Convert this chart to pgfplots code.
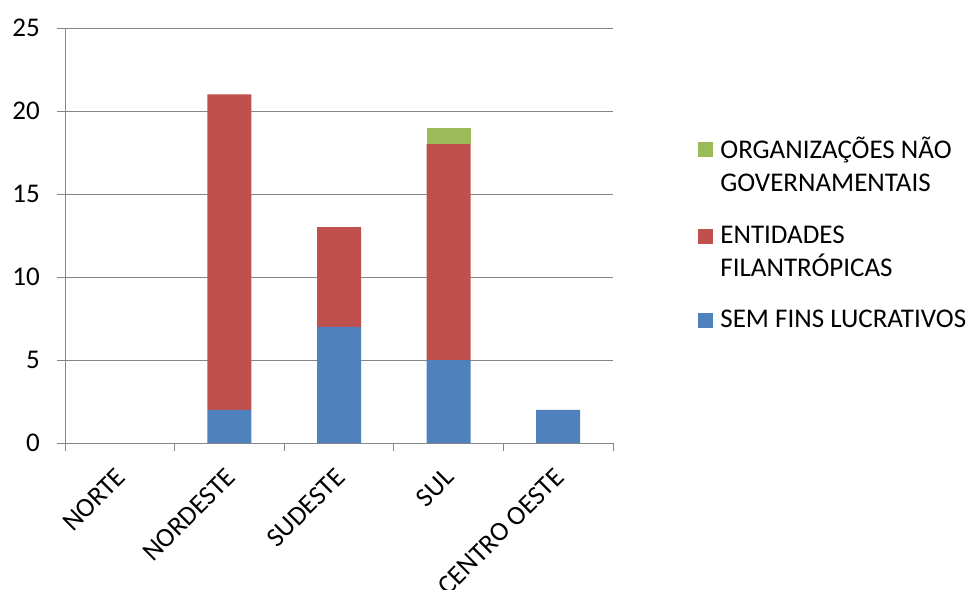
\documentclass[border=0pt]{standalone}
\usepackage{pgfplots}
\pgfplotsset{compat=1.18}
\usepackage{fontspec}
\setmainfont{Carlito}
\definecolor{cblue}{RGB}{79,129,189}
\definecolor{cred}{RGB}{192,80,77}
\definecolor{cgreen}{RGB}{155,187,89}
\definecolor{gridgray}{RGB}{134,134,134}
\begin{document}
\fontsize{27}{33}\selectfont
\begin{tikzpicture}
\useasboundingbox (0pt,0pt) rectangle (968pt,589pt);
\begin{axis}[
  at={(65pt,146pt)}, anchor=south west,
  scale only axis, width=548pt, height=415pt,
  ybar stacked, bar width=44pt,
  xmin=-0.5, xmax=4.5, ymin=0, ymax=25,
  xtick={-0.5,0.5,1.5,2.5,3.5,4.5}, xticklabels={},
  extra x ticks={0,1,2,3,4},
  extra x tick labels={NORTE,NORDESTE,SUDESTE,SUL,CENTRO OESTE},
  extra x tick style={major tick length=0pt, xticklabel style={rotate=45, anchor=east, xshift=-11pt, yshift=-22pt}},
  ytick={0,5,10,15,20,25},
  ymajorgrids, grid style={color=gridgray, line width=0.9pt},
  axis x line*=bottom, axis y line*=left,
  axis line style={color=gridgray, line width=0.9pt, -},
  tick style={color=gridgray, line width=0.9pt},
  tick align=outside, major tick length=8pt,
  /pgf/number format/assume math mode=true,
  ticklabel style={font=\fontsize{27}{32}\selectfont, text=black},
  yticklabel style={xshift=-8pt},
  reverse legend,
  legend cell align=left,
  legend style={draw=none, at={(1.150,0.745)}, anchor=north west,
    font=\fontsize{27}{33}\selectfont, row sep=28pt, column sep=6pt,
    nodes={align=left, inner sep=1pt}},
]
\addplot[fill=cblue, draw=none, legend image code/.code={\fill[cblue] (0pt,-7.5pt) rectangle (15pt,7.5pt);}]
  coordinates {(0,0) (1,2) (2,7) (3,5) (4,2)};
\addplot[fill=cred, draw=none, legend image code/.code={\fill[cred] (0pt,9pt) rectangle (15pt,24pt);}]
  coordinates {(0,0) (1,19) (2,6) (3,13) (4,0)};
\addplot[fill=cgreen, draw=none, legend image code/.code={\fill[cgreen] (0pt,9pt) rectangle (15pt,24pt);}]
  coordinates {(0,0) (1,0) (2,0) (3,1) (4,0)};
\addlegendentry{SEM FINS LUCRATIVOS}
\addlegendentry{ENTIDADES\\FILANTRÓPICAS}
\addlegendentry{ORGANIZAÇÕES NÃO\\GOVERNAMENTAIS}
\end{axis}
\end{tikzpicture}
\end{document}
